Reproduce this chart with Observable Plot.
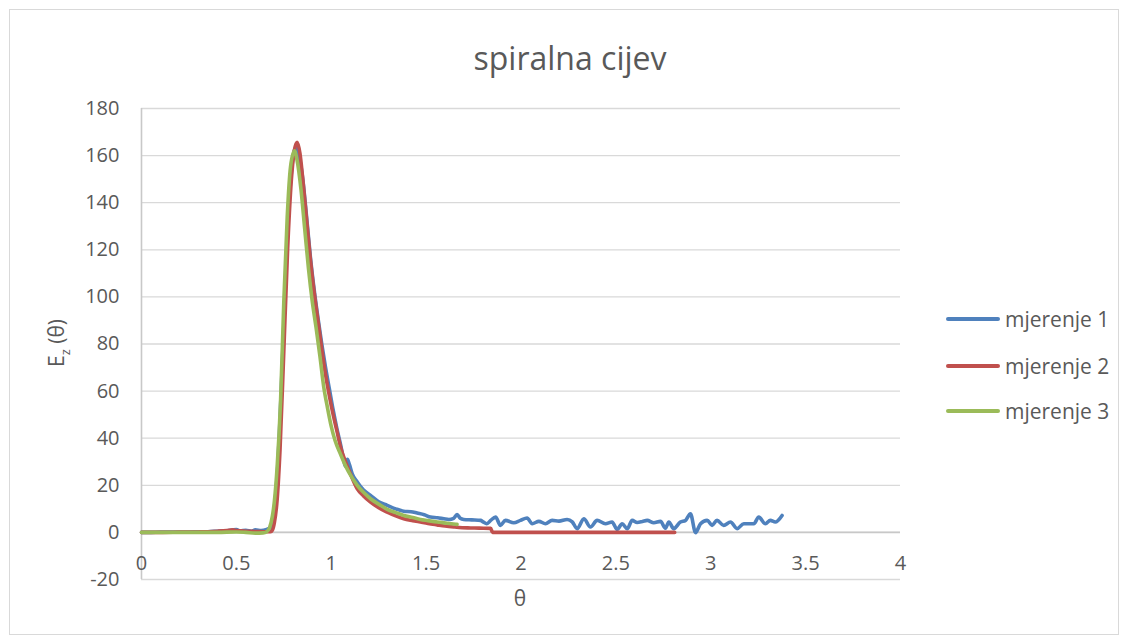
<!DOCTYPE html>
<html><head><meta charset="utf-8">
<script src="https://cdn.jsdelivr.net/npm/d3@7"></script>
<script src="https://cdn.jsdelivr.net/npm/@observablehq/plot@0.6"></script>
<style>
body{margin:0;background:#fff;font-family:"Open Sans","Noto Sans",sans-serif;}
#wrap{position:relative;width:1129px;height:644px;overflow:hidden;}
#frame{position:absolute;left:9px;top:9px;width:1110px;height:626px;border:1px solid #d9d9d9;box-sizing:border-box;}
#title{position:absolute;left:9px;width:1122px;top:38px;text-align:center;font-size:32px;color:#595959;line-height:40px;}
#chart{position:absolute;left:0;top:0;}
#ylab{position:absolute;left:58px;top:343px;transform:translate(-50%,-50%) rotate(-90deg);font-size:21px;color:#595959;white-space:nowrap;}
#xlab{position:absolute;left:520px;top:598px;transform:translate(-50%,-50%);font-size:21px;color:#595959;}
.leg{position:absolute;left:946px;height:26px;display:flex;align-items:center;font-size:21px;color:#595959;transform:translateY(-50%);}
.leg span.sw{display:inline-block;width:54px;height:4px;border-radius:2px;margin-right:5px;}
</style></head>
<body>
<div id="wrap">
  <div id="frame"></div>
  <div id="title">spiralna cijev</div>
  <div id="chart"></div>
  <div id="ylab">E<sub style="font-size:13px">z</sub> (θ)</div>
  <div id="xlab">θ</div>
  <div id="legend"></div>
</div>
<script>
const seriesNames = ["mjerenje 1", "mjerenje 2", "mjerenje 3"];
const colors = ["#4f81bd", "#c0504d", "#9bbb59"];
const xTicks = [0, 0.5, 1, 1.5, 2, 2.5, 3, 3.5, 4];
const yTicks = [-20, 0, 20, 40, 60, 80, 100, 120, 140, 160, 180];

const x1 = [0,0.05,0.1,0.15,0.2,0.25,0.3,0.35,0.4,0.45,0.48,0.5,0.52,0.55,0.58,0.6,0.63,0.66,0.68,0.69,0.70,0.715,0.73,0.75,0.77,0.79,0.805,0.815,0.83,0.85,0.87,0.89,0.91,0.93,0.95,0.97,0.99,1.01,1.03,1.05,1.065,1.075,1.085,1.095,1.11,1.137,1.17,1.207,1.25,1.295,1.34,1.382,1.42,1.453,1.49,1.523,1.56,1.593,1.62,1.645,1.663,1.68,1.698,1.74,1.787,1.80,1.82,1.84,1.866,1.892,1.918,1.962,1.997,2.032,2.059,2.094,2.129,2.164,2.2,2.243,2.27,2.296,2.331,2.366,2.401,2.445,2.48,2.507,2.533,2.56,2.586,2.612,2.64,2.665,2.7,2.735,2.761,2.779,2.805,2.84,2.867,2.893,2.92,2.946,2.981,3.007,3.033,3.068,3.104,3.139,3.174,3.227,3.253,3.288,3.314,3.34,3.376];
const y1 = [0,0,0.1,0.1,0.2,0.2,0.3,0.3,0.5,0.7,1,1.2,0.6,0.9,0.5,1.1,0.8,1.3,2,4,10,24,48,88,128,153,162,163.5,160,150,134,117,103,91,80,70,61,52,44,37,31,28,31,29,25,21.4,18,15.7,13,11.5,10,9,8.8,8.2,7.5,6.5,6.2,5.8,5.5,6,7.6,6,5.5,5.3,5.1,4.5,3.7,5.1,6.5,3,5.1,4.1,5.1,6.1,3.7,4.7,3.7,5.1,4.8,5.5,4.5,1.6,5.8,2.3,5.1,3.7,4.4,1.3,3.7,1.6,5.1,4.2,4.6,5.1,4.1,4.7,1.8,4.4,1.6,4.4,5.1,7.9,-0.1,3.7,5.1,3,5.1,3,4.4,1.6,3.7,3.7,6.5,3.7,5.1,4.4,7.2];

const x2 = [0,0.1,0.2,0.3,0.35,0.4,0.45,0.48,0.5,0.55,0.6,0.65,0.68,0.69,0.70,0.715,0.73,0.75,0.77,0.79,0.805,0.82,0.835,0.85,0.87,0.89,0.91,0.93,0.95,0.97,0.99,1.01,1.03,1.05,1.08,1.10,1.137,1.17,1.207,1.25,1.295,1.34,1.382,1.43,1.47,1.51,1.558,1.6,1.646,1.69,1.734,1.78,1.84,1.85,2.0,2.5,2.81];
const y2 = [0,0,0.1,0.2,0.3,0.5,0.8,1.1,0.8,0.5,0.4,0.3,0.3,1,4,14,35,77,120,150,162,165.7,161,150,133,116,102,90,78,67,58,50,43,36,29,25,18.5,15.5,12.9,10.5,8.6,7,5.8,5,4.4,3.8,3.2,2.7,2.3,2,1.9,1.8,1.7,0,0,0,0];

const x3 = [0,0.1,0.2,0.3,0.4,0.5,0.55,0.6,0.64,0.66,0.675,0.69,0.70,0.715,0.733,0.75,0.768,0.785,0.806,0.82,0.84,0.86,0.88,0.90,0.92,0.94,0.96,0.98,1.0,1.02,1.05,1.08,1.1,1.137,1.17,1.207,1.25,1.295,1.34,1.382,1.43,1.47,1.51,1.558,1.61,1.663];
const y3 = [0,0,0,0,0,0.2,0,-0.3,-0.2,0.3,2,7,13,28,56,98,134,155,162,158,146,129,112,98,87,75,62,53,45,39,33,27.5,24.5,20,17,14.3,12,9.8,8.4,7.2,6.3,5.5,5,4.4,3.9,3.4];

const xs = [x1, x2, x3], ys = [y1, y2, y3];
const data = [];
xs.forEach((xa, i) => xa.forEach((x, j) => data.push({s: seriesNames[i], x, y: ys[i][j]})));

const font = '"Open Sans","Noto Sans",sans-serif';
const chart = Plot.plot({
  width: 1129, height: 644,
  marginLeft: 141, marginRight: 229, marginTop: 108, marginBottom: 65,
  style: {fontFamily: font, fontSize: "20px", color: "#595959", background: "transparent"},
  x: {domain: [0, 4]},
  y: {domain: [-20, 180]},
  color: {domain: seriesNames, range: colors},
  marks: [
    Plot.gridY(yTicks, {stroke: "#d9d9d9", strokeOpacity: 1, strokeWidth: 1.3}),
    Plot.ruleY([0], {stroke: "#c8c8c8", strokeWidth: 1.6}),
    Plot.ruleX([0], {y1: -20, y2: 180, stroke: "#c8c8c8", strokeWidth: 1.6}),
    Plot.axisY(yTicks, {tickSize: 0, tickPadding: 22, label: null, fill: "#595959", fontSize: 20, tickFormat: d => String(d)}),
    Plot.axisX([], {label: null, tickSize: 0}),
    Plot.text(xTicks, {x: d => d, y: 0, dy: 31, text: d => String(d), fill: "#595959", fontSize: 20}),
    Plot.line(data, {x: "x", y: "y", z: "s", stroke: "s", strokeWidth: 3.6, curve: "monotone-x", strokeLinejoin: "round", strokeLinecap: "round"})
  ]
});
document.getElementById("chart").appendChild(chart);

const legTop = [319, 366, 411];
const leg = document.getElementById("legend");
seriesNames.forEach((n, i) => {
  const d = document.createElement("div");
  d.className = "leg";
  d.style.top = legTop[i] + "px";
  d.innerHTML = `<span class="sw" style="background:${colors[i]}"></span>${n}`;
  leg.appendChild(d);
});
</script>
</body></html>
